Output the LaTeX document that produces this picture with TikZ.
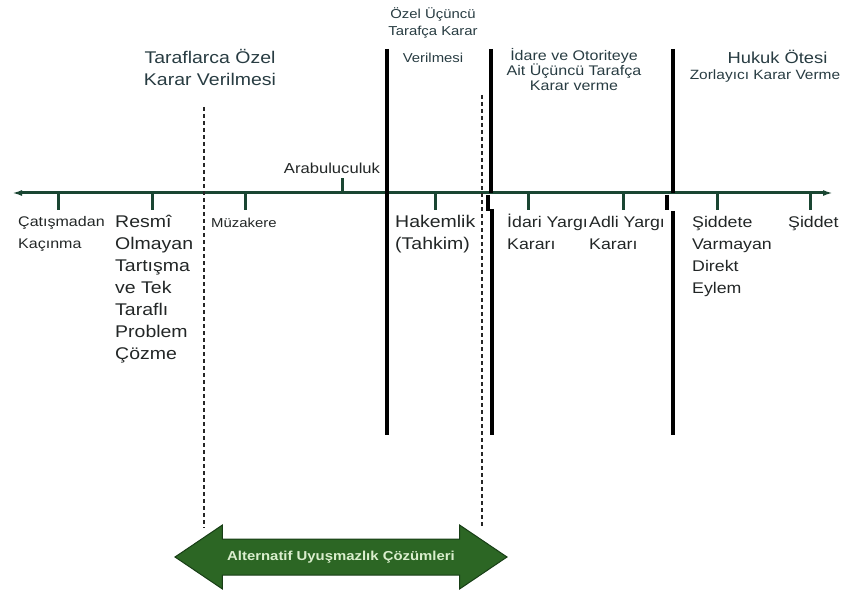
\documentclass[tikz,border=0pt]{standalone}
\usepackage{fontspec}
\setmainfont{Liberation Sans}[FakeStretch=1.15]
\usetikzlibrary{arrows.meta,shapes.arrows}
\definecolor{axisgreen}{RGB}{26,70,50}
\definecolor{toptext}{RGB}{40,60,66}
\definecolor{lowtext}{RGB}{34,38,38}
\definecolor{adrfill}{RGB}{44,102,36}
\definecolor{adrdraw}{RGB}{24,62,22}
\definecolor{adrtext}{RGB}{218,238,205}
\tikzset{
  axisline/.style={draw=axisgreen, line width=3bp,
    {Latex[length=10bp,width=6bp]}-{Latex[length=10bp,width=6bp]}},
  tick/.style={draw=axisgreen, line width=3bp},
  divider/.style={draw=black, line width=3.6bp},
  zone/.style={draw=black!85, line width=1.8bp, dash pattern=on 4bp off 3bp},
  toplbl/.style={text=toptext, align=center, inner sep=0pt},
  lowlbl/.style={text=lowtext, align=left, inner sep=0pt, anchor=north west},
  adrarrow/.style={double arrow, draw=adrdraw, line width=1bp, fill=adrfill,
    double arrow head extend=14bp, double arrow tip angle=68,
    minimum height=332bp, inner xsep=0pt, inner ysep=11bp,
    text height=10bp, text depth=3bp, text=adrtext,
    font=\bfseries\fontsize{13}{15}\selectfont}
}

\begin{document}
\begin{tikzpicture}[x=1bp,y=-1bp]
  \useasboundingbox (0,0) rectangle (845,595);
  \def\yAx{193}
  \def\yTop{49}
  \def\yBot{435}

  % axis with ticks
  \coordinate (axl) at (12,\yAx);
  \coordinate (axr) at (833,\yAx);
  \draw[axisline] (axl) -- (axr);
  \foreach \x in {58,152,245,435,528,623,717,810}
    \draw[tick] (\x,\yAx) -- (\x,210);
  \draw[tick] (342,\yAx) -- (342,178);

  % solid separators
  \draw[divider] (387,\yTop) -- (387,\yBot);
  \draw[divider] (491,\yTop) -- (491,\yAx);
  \draw[divider, line width=4.4bp] (488,195) -- (488,211);
  \draw[divider] (492,209) -- (492,\yBot);
  \draw[divider] (673,\yTop) -- (673,\yAx);
  \draw[divider] (667,195) -- (667,210);
  \draw[divider] (673,211) -- (673,\yBot);

  % dotted range
  \draw[zone] (204,107) -- (204,528);
  \draw[zone] (482,95) -- (482,528);

  % headings
  \node[toplbl, anchor=north, font=\fontsize{17}{22}\selectfont] (priv) at (210,49)
    {Taraflarca Özel\\Karar Verilmesi};
  \node[toplbl, anchor=north, font=\fontsize{13}{18}\selectfont] (third) at (433,7)
    {Özel Üçüncü\\Tarafça Karar\\[9bp]Verilmesi};
  \node[toplbl, anchor=north, font=\fontsize{14}{15}\selectfont] (admin) at (574,48.5)
    {İdare ve Otoriteye\\Ait Üçüncü Tarafça\\Karar verme};
  \node[toplbl, anchor=base, font=\fontsize{16}{18}\selectfont] (extra) at (777.5,64)
    {Hukuk Ötesi};
  \node[toplbl, anchor=base, font=\fontsize{13.5}{16}\selectfont] (force) at (765,80)
    {Zorlayıcı Karar Verme};

  % methods along the axis
  \node[lowlbl, anchor=base, font=\fontsize{14.5}{17}\selectfont] (med) at (332,174)
    {Arabuluculuk};
  \node[lowlbl, font=\fontsize{14}{22}\selectfont] (avoid) at (18,216.5)
    {Çatışmadan\\Kaçınma};
  \node[lowlbl, font=\fontsize{17}{22}\selectfont] (informal) at (115,215)
    {Resmî\\Olmayan\\Tartışma\\ve Tek\\Taraflı\\Problem\\Çözme};
  \node[lowlbl, font=\fontsize{13}{16}\selectfont] (nego) at (211,218)
    {Müzakere};
  \node[lowlbl, font=\fontsize{17}{22}\selectfont] (arb) at (395,215.5)
    {Hakemlik\\(Tahkim)};
  \node[lowlbl, font=\fontsize{15.5}{22}\selectfont] (adm) at (507,214)
    {İdari Yargı\\Kararı};
  \node[lowlbl, font=\fontsize{15.5}{22}\selectfont] (jud) at (589,216)
    {Adli Yargı\\Kararı};
  \node[lowlbl, font=\fontsize{15.5}{22}\selectfont] (nonviol) at (692,216)
    {Şiddete\\Varmayan\\Direkt\\Eylem};
  \node[lowlbl, font=\fontsize{15.5}{22}\selectfont] (viol) at (788,216)
    {Şiddet};

  \node[adrarrow] (adr) at (341,557) {Alternatif Uyuşmazlık Çözümleri};
\end{tikzpicture}
\end{document}
